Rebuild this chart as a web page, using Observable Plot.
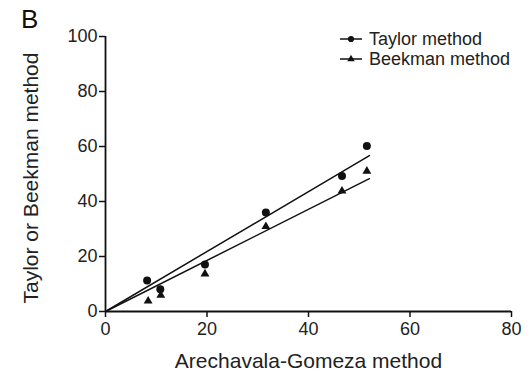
<!DOCTYPE html>
<html>
<head>
<meta charset="utf-8">
<script src="https://cdn.jsdelivr.net/npm/d3@7"></script>
<script src="https://cdn.jsdelivr.net/npm/@observablehq/plot@0.6"></script>
<style>
  html, body { margin: 0; padding: 0; background: #fff; }
  #wrap { position: relative; width: 530px; height: 371px; font-family: "Liberation Sans", Arial, sans-serif; }
  #panel { position: absolute; left: 21px; top: 6px; font-size: 26px; line-height: 1; color: #111; }
  #legend { position: absolute; left: 339px; top: 29px; font-size: 18px; color: #222; line-height: 20px; }
  #legend div { display: flex; align-items: center; height: 20px; }
  #legend svg { margin-right: 6px; }
</style>
</head>
<body>
<div id="wrap">
  <div id="chart"></div>
  <div id="panel">B</div>
  <div id="legend"></div>
</div>
<script>
// Data
const agX      = [8.2, 10.8, 19.6, 31.6, 46.6, 51.5];
const taylor   = [11.3, 8.1, 17.1, 36.0, 49.3, 60.2];
const beekmanX = [8.4, 10.9, 19.6, 31.6, 46.6, 51.5];
const beekman  = [3.8, 5.9, 13.7, 30.9, 43.8, 51.0];
// fitted lines (through origin), endpoints
const fitX       = [0, 52];
const taylorFit  = [0, 56.7];
const beekmanFit = [0, 48.3];
const xTicks = [0, 20, 40, 60, 80];
const yTicks = [0, 20, 40, 60, 80, 100];
const seriesNames = ["Taylor method", "Beekman method"];

const taylorPts  = agX.map((x, i) => ({x, y: taylor[i]}));
const beekmanPts = beekmanX.map((x, i) => ({x, y: beekman[i]}));
const tFit = fitX.map((x, i) => ({x, y: taylorFit[i]}));
const bFit = fitX.map((x, i) => ({x, y: beekmanFit[i]}));

const chart = Plot.plot({
  width: 530,
  height: 371,
  marginLeft: 105,
  marginRight: 19,
  marginTop: 36,
  marginBottom: 60,
  style: { fontFamily: "'Liberation Sans', Arial, sans-serif", color: "#111", background: "#fff" },
  x: { domain: [0, 80] },
  y: { domain: [0, 100] },
  marks: [
    Plot.axisX({ ticks: xTicks, tickSize: 6, tickPadding: 5, fontSize: 18, label: null, strokeWidth: 1.5, fill: "#222" }),
    Plot.axisY({ ticks: yTicks, tickSize: 6, tickPadding: 2, fontSize: 18, label: null, strokeWidth: 1.5, fill: "#222" }),
    Plot.ruleY([0], { strokeWidth: 1.8 }),
    Plot.ruleX([0], { strokeWidth: 1.8 }),
    Plot.line(tFit, { x: "x", y: "y", strokeWidth: 1.5 }),
    Plot.line(bFit, { x: "x", y: "y", strokeWidth: 1.5 }),
    Plot.dot(taylorPts, { x: "x", y: "y", r: 4, fill: "#111", stroke: null }),
    Plot.dot(beekmanPts, { x: "x", y: "y", r: 3.3, symbol: "triangle", fill: "#111", stroke: null }),
    Plot.text(["Arechavala-Gomeza method"], { frameAnchor: "bottom", dy: 56, fontSize: 21, fill: "#222" }),
    Plot.text(["Taylor or Beekman method"], { frameAnchor: "left", textAnchor: "middle", rotate: -90, dx: -74, dy: 4, fontSize: 21, fill: "#222" })
  ]
});
document.getElementById("chart").appendChild(chart);

// Legend
const legend = document.getElementById("legend");
const symbols = [d3.symbolCircle, d3.symbolTriangle];
const sizes = [30, 24];
seriesNames.forEach((name, i) => {
  const row = document.createElement("div");
  const svg = d3.create("svg").attr("width", 24).attr("height", 12);
  svg.append("line").attr("x1", 1).attr("x2", 23).attr("y1", 6).attr("y2", 6).attr("stroke", "#111").attr("stroke-width", 1.5);
  svg.append("path").attr("d", d3.symbol(symbols[i], sizes[i])()).attr("transform", "translate(12,6)").attr("fill", "#111");
  row.appendChild(svg.node());
  const span = document.createElement("span");
  span.textContent = name;
  row.appendChild(span);
  legend.appendChild(row);
});
</script>
</body>
</html>
